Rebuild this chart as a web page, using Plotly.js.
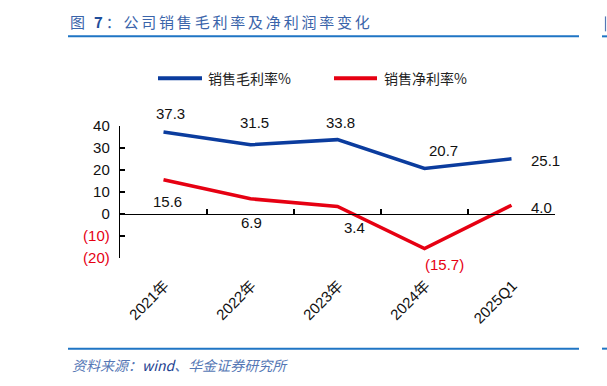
<!DOCTYPE html>
<html>
<head>
<meta charset="utf-8">
<script src="https://cdn.plot.ly/plotly-3.0.1.min.js"></script>
<style>
html,body{margin:0;padding:0;background:#fff;}
#chart{width:607px;height:386px;}
.gtitle{letter-spacing:2.8px;}
</style>
</head>
<body>
<div id="chart"></div>
<script>
// ---- data ----
const categories = ['2021年', '2022年', '2023年', '2024年', '2025Q1'];
const grossMargin = [37.3, 31.5, 33.8, 20.7, 25.1];
const netMargin = [15.6, 6.9, 3.4, -15.7, 4.0];
const seriesNames = ['销售毛利率%', '销售净利率%'];
const yTickVals = [40, 30, 20, 10, 0, -10, -20];
const yTickText = ['40', '30', '20', '10', '0', '(10)', '(20)'];

// ---- styling / layout helpers ----
const W = 607, H = 386;
const M = {l: 120, r: 52, t: 126, b: 127.5};
const PW = W - M.l - M.r, PH = H - M.t - M.b;
const px = x => (x - M.l) / PW;
const py = y => (H - M.b - y) / PH;

const BLUE = '#0B3C9E', RED = '#E60012';
const COLORS = [BLUE, RED];
const FONT = 'Liberation Sans, Arial, Noto Sans CJK SC, sans-serif';
const CJK = 'Noto Sans CJK SC, Liberation Sans, sans-serif';

const fmt = v => v < 0 ? '(' + Math.abs(v).toFixed(1) + ')' : v.toFixed(1);
const grossShift = [[7, 18], [4, 22], [3, 17], [19, 18], [34, -2]];
const netShift = [[4, -22], [1, -24], [17, -21], [20, -16], [30, -2]];

const annotations = [];
grossMargin.forEach((v, i) => annotations.push({
  x: categories[i], y: v, xref: 'x', yref: 'y', text: fmt(v), showarrow: false,
  xshift: grossShift[i][0], yshift: grossShift[i][1],
  font: {family: FONT, size: 15, color: '#111'}
}));
netMargin.forEach((v, i) => annotations.push({
  x: categories[i], y: v, xref: 'x', yref: 'y', text: fmt(v), showarrow: false,
  xshift: netShift[i][0], yshift: netShift[i][1],
  font: {family: FONT, size: 15, color: v < 0 ? RED : '#111'}
}));
// footer
annotations.push({
  xref: 'paper', yref: 'paper', x: px(70), y: py(366), xanchor: 'left', yanchor: 'middle',
  showarrow: false,
  text: '<i><span style="color:#5577B5">资料来源：</span><span style="color:#1E3F8F">wind</span><span style="color:#5577B5">、华金证券研究所</span></i>',
  font: {family: CJK, size: 14, color: '#5577B5'}
});

// manual legend (line samples + labels)
const legendLineX = [[158, 202], [334, 377]];
const legendTextX = [206, 382];
const legendY = 78;
seriesNames.forEach((n, i) => annotations.push({
  xref: 'paper', yref: 'paper', x: px(legendTextX[i]), y: py(legendY), xanchor: 'left', yanchor: 'middle',
  showarrow: false, text: n, font: {family: CJK, size: 14, color: '#222'}
}));

const yTickTextStyled = yTickText.map((t, i) => yTickVals[i] < 0 ? '<span style="color:' + RED + '">' + t + '</span>' : t);

const traces = [
  {x: categories, y: grossMargin, name: seriesNames[0], type: 'scatter', mode: 'lines',
   line: {color: BLUE, width: 3.5}, cliponaxis: false},
  {x: categories, y: netMargin, name: seriesNames[1], type: 'scatter', mode: 'lines',
   line: {color: RED, width: 3.5}, cliponaxis: false},
  {x: categories, y: categories.map(() => null), xaxis: 'x2', yaxis: 'y', type: 'scatter',
   mode: 'lines', showlegend: false, hoverinfo: 'skip'}
];

const LINE = '#1F75C4';
const shapes = [
  {type: 'line', xref: 'paper', yref: 'paper', x0: px(68), x1: px(579), y0: py(36), y1: py(36), line: {color: LINE, width: 2}},
  {type: 'line', xref: 'paper', yref: 'paper', x0: px(68), x1: px(579), y0: py(349.5), y1: py(349.5), line: {color: LINE, width: 2}},
  {type: 'line', xref: 'paper', yref: 'paper', x0: px(602), x1: px(608), y0: py(36), y1: py(36), line: {color: LINE, width: 2}},
  {type: 'line', xref: 'paper', yref: 'paper', x0: px(602), x1: px(608), y0: py(349.5), y1: py(349.5), line: {color: LINE, width: 2}},
  {type: 'line', xref: 'paper', yref: 'paper', x0: px(605.5), x1: px(605.5), y0: py(16), y1: py(31), line: {color: '#5577B5', width: 1.2}}
];
legendLineX.forEach((lx, i) => shapes.push({
  type: 'line', xref: 'paper', yref: 'paper', x0: px(lx[0]), x1: px(lx[1]), y0: py(legendY), y1: py(legendY),
  line: {color: COLORS[i], width: 4}
}));

const layout = {
  width: W, height: H,
  margin: M,
  paper_bgcolor: '#fff', plot_bgcolor: '#fff',
  showlegend: false,
  title: {
    text: '<span style="color:#3A64AA">图 </span><b style="color:#1F4E9A">7</b><span style="color:#3A64AA">：公司销售毛利率及净利润率变化</span>',
    xref: 'container', yref: 'container', x: 70 / W, xanchor: 'left', y: 1 - 23 / H, yanchor: 'middle',
    font: {family: CJK, size: 15, color: '#3A64AA'}
  },
  xaxis: {
    type: 'category', range: [-0.5, 4.5], showline: false, ticks: '', showgrid: false, zeroline: false,
    tickangle: -45, tickfont: {family: FONT, size: 15, color: '#111'}, automargin: false,
    ticklabelstandoff: 15, ticklabelshift: 1
  },
  xaxis2: {
    type: 'category', overlaying: 'x', anchor: 'free', position: (0 - (-20)) / 60, side: 'bottom',
    range: [-0.5, 4.5], showline: true, linecolor: '#000', linewidth: 1.2,
    ticks: 'inside', tickson: 'boundaries', ticklen: 5, tickcolor: '#000', tickwidth: 1.2,
    showticklabels: false, showgrid: false, zeroline: false
  },
  yaxis: {
    range: [-20, 40], tickvals: yTickVals, ticktext: yTickTextStyled,
    showline: true, linecolor: '#000', linewidth: 1.2, ticks: 'inside', ticklen: 5,
    tickcolor: '#000', tickwidth: 1.2, showgrid: false, zeroline: false,
    tickfont: {family: FONT, size: 15, color: '#111'}, automargin: false, ticklabelstandoff: 6
  },
  annotations: annotations,
  shapes: shapes
};

Plotly.newPlot('chart', traces, layout, {displayModeBar: false, staticPlot: true});
</script>
</body>
</html>
